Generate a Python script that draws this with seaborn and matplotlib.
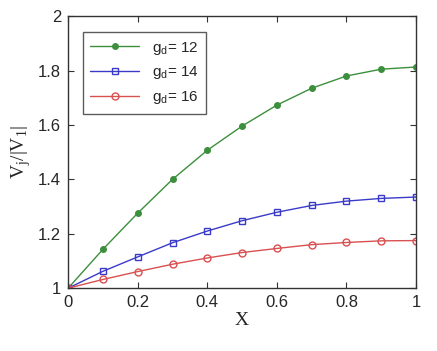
import numpy as np
import pandas as pd
import matplotlib
matplotlib.use("Agg")
import matplotlib.pyplot as plt
import seaborn as sns

x_vals = [0, 0.1, 0.2, 0.3, 0.4, 0.5, 0.6, 0.7, 0.8, 0.9, 1.0]
g12 = [1.0, 1.143, 1.276, 1.40, 1.507, 1.596, 1.673, 1.735, 1.78, 1.805, 1.813]
g14 = [1.0, 1.062, 1.115, 1.167, 1.21, 1.248, 1.279, 1.304, 1.32, 1.33, 1.335]
g16 = [1.0, 1.032, 1.061, 1.088, 1.111, 1.131, 1.146, 1.16, 1.168, 1.174, 1.175]
labels = [r"g$_{\mathregular{d}}$= 12", r"g$_{\mathregular{d}}$= 14", r"g$_{\mathregular{d}}$= 16"]
xticks = [0, 0.2, 0.4, 0.6, 0.8, 1]
yticks = [1, 1.2, 1.4, 1.6, 1.8, 2]

sns.set_style("white")
plt.rcParams['font.family'] = ['Liberation Sans', 'DejaVu Sans']
plt.rcParams['mathtext.fontset'] = 'custom'
plt.rcParams['mathtext.rm'] = 'Liberation Sans'

df = pd.DataFrame({
    'x': x_vals * 3,
    'v': g12 + g14 + g16,
    'series': [labels[0]] * 11 + [labels[1]] * 11 + [labels[2]] * 11,
})

colors = ['#3c8f3c', '#3a3ac8', '#d95050']
markers = ['o', 's', 'o']

fig = plt.figure(figsize=(4.37, 3.51), dpi=100)
ax = fig.add_axes([0.156, 0.179, 0.796, 0.775])

for i, lab in enumerate(labels):
    sub = df[df['series'] == lab]
    filled = (i == 0)
    sns.lineplot(data=sub, x='x', y='v', ax=ax, color=colors[i], lw=1.0,
                 marker=markers[i], markersize=4 if filled else 5,
                 markerfacecolor=colors[i] if filled else 'none',
                 markeredgecolor=colors[i], markeredgewidth=1.0, label=lab)

ax.set_xlim(0, 1)
ax.set_ylim(1, 2)
ax.set_xticks(xticks)
ax.set_xticklabels([f"{t:g}" for t in xticks])
ax.set_yticks(yticks)
ax.set_yticklabels([f"{t:g}" for t in yticks])
ax.tick_params(direction='in', top=True, right=True, bottom=True, left=True,
               length=4, width=0.8, labelsize=12, color='#333333', pad=5)
for s in ax.spines.values():
    s.set_color('#333333')
    s.set_linewidth(1.0)

ax.set_xlabel('X', fontsize=14, family='Liberation Serif', labelpad=1)
ax.set_ylabel(r'V$_{\mathregular{j}}$/|V$_{\mathregular{1}}$|', fontsize=14,
              family='Liberation Serif', labelpad=4)

leg = ax.legend(loc='upper left', bbox_to_anchor=(0.02, 0.97), fontsize=11,
                frameon=True, fancybox=False, edgecolor='#333333',
                handlelength=3.2, borderpad=0.5, labelspacing=0.5)
leg.get_frame().set_linewidth(1.0)

fig.savefig('out.png', dpi=100)
